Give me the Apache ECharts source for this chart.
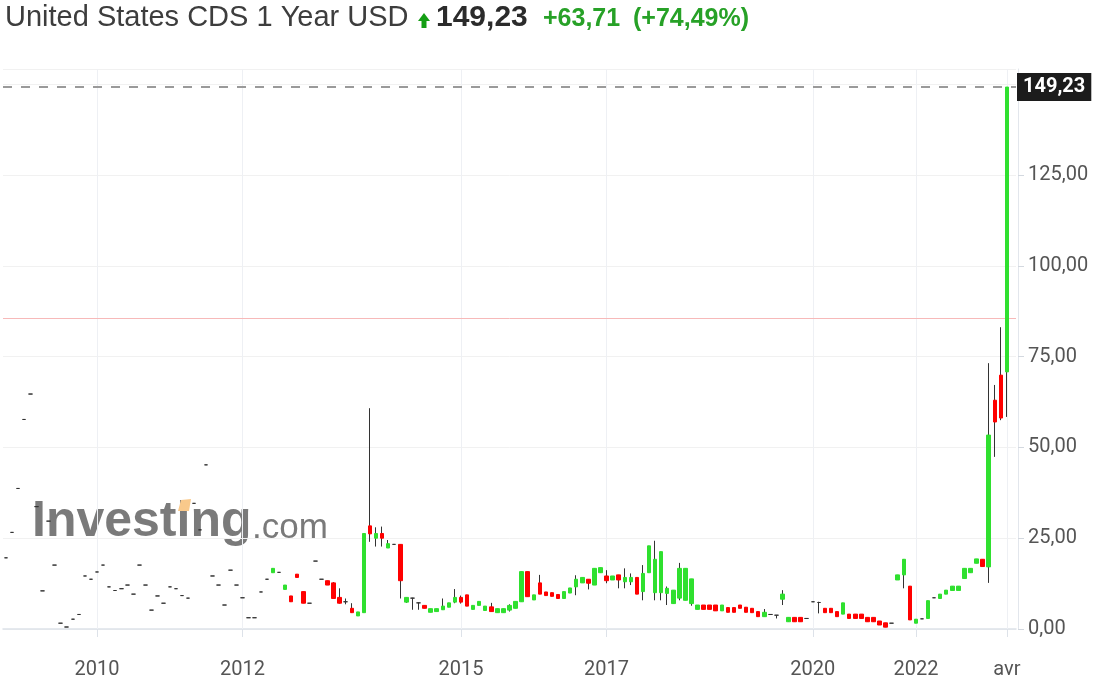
<!DOCTYPE html>
<html>
<head>
<meta charset="utf-8">
<title>United States CDS 1 Year USD</title>
<script src="https://cdn.jsdelivr.net/npm/echarts@6/dist/echarts.min.js"></script>
<style>
    html, body { margin: 0; padding: 0; background: #fff; }
    #chart { width: 1100px; height: 689px; }
</style>
</head>
<body>
<div id="chart"></div>
<script>
// 月度K线的分类（2019-2021年部分月份缺失）
var months = [
    '2008-10', '2008-11', '2008-12',
    '2009-01', '2009-02', '2009-03', '2009-04', '2009-05', '2009-06', '2009-07', '2009-08', '2009-09', '2009-10', '2009-11', '2009-12',
    '2010-01', '2010-02', '2010-03', '2010-04', '2010-05', '2010-06', '2010-07', '2010-08', '2010-09', '2010-10', '2010-11', '2010-12',
    '2011-01', '2011-02', '2011-03', '2011-04', '2011-05', '2011-06', '2011-07', '2011-08', '2011-09', '2011-10', '2011-11', '2011-12',
    '2012-01', '2012-02', '2012-03', '2012-04', '2012-05', '2012-06', '2012-07', '2012-08', '2012-09', '2012-10', '2012-11', '2012-12',
    '2013-01', '2013-02', '2013-03', '2013-04', '2013-05', '2013-06', '2013-07', '2013-08', '2013-09', '2013-10', '2013-11', '2013-12',
    '2014-01', '2014-02', '2014-03', '2014-04', '2014-05', '2014-06', '2014-07', '2014-08', '2014-09', '2014-10', '2014-11', '2014-12',
    '2015-01', '2015-02', '2015-03', '2015-04', '2015-05', '2015-06', '2015-07', '2015-08', '2015-09', '2015-10', '2015-11', '2015-12',
    '2016-01', '2016-02', '2016-03', '2016-04', '2016-05', '2016-06', '2016-07', '2016-08', '2016-09', '2016-10', '2016-11', '2016-12',
    '2017-01', '2017-02', '2017-03', '2017-04', '2017-05', '2017-06', '2017-07', '2017-08', '2017-09', '2017-10', '2017-11', '2017-12',
    '2018-01', '2018-02', '2018-03', '2018-04', '2018-05', '2018-06', '2018-07', '2018-08', '2018-09', '2018-10', '2018-11', '2018-12',
    '2019-01', '2019-02', '2019-03', '2019-04', '2019-05', '2019-06', '2019-09', '2019-10', '2019-11', '2019-12',
    '2020-01', '2020-02', '2020-03', '2020-04', '2020-06', '2020-07', '2020-09', '2020-11',
    '2021-01', '2021-03', '2021-05', '2021-06', '2021-07', '2021-08', '2021-09', '2021-10', '2021-12',
    '2022-01', '2022-02', '2022-03', '2022-04', '2022-05', '2022-06', '2022-07', '2022-08', '2022-09', '2022-10', '2022-11', '2022-12',
    '2023-01', '2023-02', '2023-03', '2023-04'
];

// x轴显示的刻度
var tickMonths = ['2010-01', '2012-01', '2015-01', '2017-01', '2020-01', '2022-01', '2023-04'];
var tickNames = ['2010', '2012', '2015', '2017', '2020', '2022', 'avr'];

// 开盘、收盘、最低、最高
var opens = [
    19.6, 26.6, 38.7, 57.7, 64.7, 33.7, 10.5, 29.7, 17.6, 1.6,
    0.55, 2.7, 4.0, 14.6, 13.7, 15.7, 17.6, 11.6, 10.6, 11.1,
    12.1, 9.6, 17.6, 12.1, 5.2, 9.1, 7.1, 11.6, 11.1, 9.2,
    8.5, 34.6, 27.3, 45.2, 14.6, 12.1, 6.6, 16.2, 12.1, 8.6,
    3.1, 3.1, 10.2, 13.7, 15.5, 15.6, 10.9, 9.1, 15.1, 10.3,
    7.1, 18.7, 13.7, 13.3, 12.7, 8.7, 7.5, 5.7, 3.6, 4.5,
    28.4, 25.0, 26.3, 22.3, 23.3, 23.3, 7.4, 8.5, 7.2, 6.5,
    4.6, 4.8, 5.3, 6.0, 7.4, 8.7, 9.4, 5.4, 6.5, 5.1,
    6.1, 4.5, 4.5, 5.2, 5.7, 7.5, 15.8, 8.0, 12.7, 10.2,
    10.0, 9.5, 8.4, 9.9, 11.6, 12.7, 13.7, 12.1, 15.5, 14.6,
    13.5, 14.9, 13.0, 13.0, 14.2, 10.3, 15.5, 10.0, 10.0, 9.8,
    7.0, 8.5, 7.9, 7.0, 5.4, 6.6, 6.6, 6.6, 5.0, 5.9,
    5.9, 6.6, 6.0, 5.7, 4.8, 3.4, 4.0, 3.8, 8.2, 2.0,
    3.2, 3.2, 2.9, 7.5, 7.3, 5.7, 5.7, 4.8, 4.1, 4.1,
    4.1, 4.1, 3.2, 3.2, 2.2, 1.7, 1.6, 13.5, 14.9, 11.8,
    1.6, 2.8, 2.9, 8.6, 8.4, 9.6, 10.6, 10.6, 13.9, 15.5,
    18.1, 19.2, 17.1, 63.0, 69.9, 70.8
];
var closes = [
    19.6, 26.6, 38.7, 57.7, 64.7, 33.7, 10.5, 29.7, 17.6, 1.6,
    0.55, 2.7, 4.0, 14.6, 13.7, 15.7, 17.6, 11.6, 10.6, 11.1,
    12.1, 9.6, 17.6, 12.1, 5.2, 9.1, 7.1, 11.6, 11.1, 9.2,
    8.5, 34.6, 27.3, 45.2, 14.6, 12.1, 6.6, 16.2, 12.1, 8.6,
    3.1, 3.1, 10.2, 13.7, 16.7, 15.6, 12.1, 7.5, 14.2, 7.1,
    7.1, 18.7, 13.7, 12.1, 8.4, 7.1, 7.5, 4.5, 4.7, 26.3,
    26.2, 26.3, 25.0, 23.5, 23.3, 13.3, 8.7, 8.5, 7.2, 5.7,
    5.6, 5.6, 6.3, 7.2, 8.7, 7.4, 6.3, 6.5, 7.6, 6.3,
    4.8, 5.6, 5.6, 6.5, 7.6, 15.8, 8.9, 9.4, 9.6, 9.2,
    9.0, 8.4, 10.3, 11.3, 13.7, 14.2, 12.6, 16.7, 16.9, 13.3,
    14.6, 13.5, 14.2, 14.2, 9.6, 15.3, 22.9, 19.2, 21.3, 11.2,
    10.7, 16.7, 16.7, 13.8, 6.6, 5.4, 5.4, 5.0, 6.6, 4.6,
    4.6, 5.7, 4.6, 4.5, 3.4, 4.6, 4.0, 3.8, 9.6, 3.2,
    2.0, 2.0, 2.9, 7.5, 7.3, 4.5, 4.5, 3.4, 7.2, 2.9,
    2.9, 2.9, 2.0, 2.0, 1.1, 0.5, 1.6, 14.9, 19.2, 2.5,
    2.7, 2.8, 7.8, 8.6, 9.6, 10.7, 11.8, 11.8, 16.7, 16.7,
    19.3, 17.2, 53.4, 57.0, 58.1, 149.23
];
var lows = [
    19.6, 26.6, 38.7, 57.7, 64.7, 33.7, 10.5, 29.7, 17.6, 1.6,
    0.55, 2.7, 4.0, 14.6, 13.7, 15.7, 17.6, 11.6, 10.6, 11.1,
    12.1, 9.6, 17.6, 12.1, 5.2, 9.1, 7.1, 11.6, 11.1, 9.2,
    8.5, 34.6, 27.3, 45.2, 14.6, 12.1, 6.6, 16.2, 12.1, 8.6,
    3.1, 3.1, 10.2, 13.7, 15.5, 15.6, 10.9, 7.5, 14.2, 7.1,
    7.1, 18.7, 13.7, 12.1, 8.4, 7.0, 6.8, 4.4, 3.6, 4.5,
    24.0, 22.7, 22.7, 22.3, 23.3, 8.4, 7.2, 5.3, 5.3, 5.7,
    4.6, 4.8, 5.3, 6.0, 7.1, 7.0, 6.3, 5.4, 6.5, 5.1,
    4.8, 4.5, 4.5, 4.8, 5.7, 7.5, 8.9, 8.0, 9.6, 9.2,
    9.0, 8.4, 8.4, 9.9, 9.3, 12.7, 10.9, 12.1, 15.5, 12.6,
    13.5, 11.2, 11.2, 12.1, 9.6, 7.9, 15.5, 7.9, 7.9, 6.6,
    7.0, 7.9, 7.9, 6.4, 5.4, 5.4, 5.4, 5.0, 5.0, 4.6,
    4.6, 5.7, 4.6, 4.5, 3.4, 3.4, 4.0, 2.9, 6.6, 2.0,
    2.0, 2.0, 2.9, 7.5, 4.3, 4.5, 4.5, 3.4, 4.1, 2.9,
    2.9, 2.9, 2.0, 2.0, 1.1, 0.5, 1.6, 13.5, 11.2, 2.5,
    1.6, 2.8, 2.9, 8.6, 8.4, 9.6, 10.6, 10.6, 13.9, 15.5,
    18.1, 17.2, 12.7, 47.4, 57.5, 58.4
];
var highs = [
    19.6, 26.6, 38.7, 57.7, 64.7, 33.7, 10.5, 29.7, 17.6, 1.6,
    0.55, 2.7, 4.0, 14.6, 13.7, 15.7, 17.6, 11.6, 10.6, 11.1,
    12.1, 9.6, 17.6, 12.1, 5.2, 9.1, 7.1, 11.6, 11.1, 9.2,
    8.5, 34.6, 27.3, 45.2, 14.6, 12.1, 6.6, 16.2, 12.1, 8.6,
    3.1, 3.1, 10.2, 13.7, 16.7, 15.6, 12.1, 9.1, 15.1, 10.3,
    7.1, 18.7, 13.7, 13.3, 12.9, 11.2, 8.4, 7.1, 4.7, 26.3,
    60.8, 28.0, 28.2, 24.5, 23.3, 23.3, 8.7, 8.6, 7.3, 6.5,
    5.6, 5.6, 8.4, 7.2, 11.0, 9.2, 9.4, 6.5, 7.6, 6.3,
    7.2, 5.6, 5.6, 6.8, 7.6, 15.8, 15.8, 9.4, 14.9, 10.2,
    10.0, 9.5, 10.3, 11.3, 14.8, 14.2, 13.7, 16.7, 16.9, 16.2,
    14.6, 14.9, 16.7, 15.3, 14.2, 17.6, 22.9, 24.3, 21.3, 11.7,
    10.7, 18.2, 16.7, 13.8, 6.6, 6.6, 6.6, 6.6, 6.6, 5.9,
    5.9, 6.6, 6.0, 5.7, 4.8, 5.5, 4.0, 3.8, 10.7, 3.2,
    3.2, 3.2, 2.9, 7.5, 7.5, 5.7, 5.7, 4.8, 7.2, 4.1,
    4.1, 4.1, 3.2, 3.2, 2.2, 1.7, 1.6, 14.9, 19.2, 11.8,
    2.7, 2.8, 7.8, 8.6, 9.6, 10.7, 11.8, 11.8, 16.7, 16.7,
    19.3, 19.2, 73.2, 67.2, 83.1, 149.23
];

var lastPrice = 149.23;   // 最新价
var prevClose = 85.52;    // 上一收盘（粉色线）
var change = 63.71;
var changePct = 74.49;

var UP = '#2fe02f';
var DOWN = '#ff0000';
var WICK = '#333333';

// 数字转成逗号小数
function fmt(v) {
    return v.toFixed(2).replace('.', ',');
}

function isTick(index, value) {
    return tickMonths.indexOf(value) >= 0;
}

var wickData = [];
var bodyData = [];
for (var i = 0; i < months.length; i++) {
    wickData.push([opens[i], closes[i], lows[i], highs[i]]);
    bodyData.push([opens[i], closes[i], Math.min(opens[i], closes[i]), Math.max(opens[i], closes[i])]);
}

// 竖向网格线画在刻度月份的中心
var markData = [];
for (var j = 0; j < tickMonths.length; j++) {
    markData.push({xAxis: tickMonths[j], lineStyle: {color: '#eef0f4', width: 1, type: 'solid'}});
}
markData.push({yAxis: prevClose, lineStyle: {color: '#f7b9b9', width: 1, type: 'solid'}});
markData.push({
    yAxis: lastPrice,
    lineStyle: {color: '#9a9a9a', width: 2, type: [9, 9]},
    label: {
        show: true,
        position: 'end',
        distance: 1,
        formatter: fmt(lastPrice),
        color: '#ffffff',
        backgroundColor: '#1c1c1c',
        fontFamily: 'Roboto',
        fontWeight: 'bold',
        fontSize: 20,
        padding: [4, 6, 4, 6]
    }
});

var chart = echarts.init(document.getElementById('chart'));

var option = {
    animation: false,
    backgroundColor: '#ffffff',
    grid: {left: 3, right: 84, top: 69, bottom: 60},
    xAxis: {
        type: 'category',
        data: months,
        max: months.length,
        boundaryGap: true,
        offset: 16,
        axisLine: {lineStyle: {color: '#dde2e9', width: 1.5}},
        axisTick: {show: true, alignWithLabel: true, interval: isTick, length: 8, lineStyle: {color: '#dde2e9'}},
        axisLabel: {
            interval: isTick,
            formatter: function (val) {
                return tickNames[tickMonths.indexOf(val)];
            },
            color: '#555555',
            fontFamily: 'Roboto',
            fontSize: 20,
            margin: 15
        },
        splitLine: {show: false}
    },
    yAxis: {
        type: 'value',
        position: 'right',
        min: 0,
        max: 154.2,
        interval: 25,
        offset: 2,
        axisLine: {show: true, lineStyle: {color: '#e2e6ec'}},
        axisTick: {show: true, length: 6, lineStyle: {color: '#d3d8df'}},
        axisLabel: {
            color: '#555555',
            fontFamily: 'Roboto',
            fontSize: 20,
            margin: 10,
            showMaxLabel: false,
            formatter: fmt
        },
        splitLine: {lineStyle: {color: '#f1f1f1'}}
    },
    series: [
        {
            name: 'wick',
            type: 'candlestick',
            data: wickData,
            barWidth: 1,
            z: 2,
            silent: true,
            itemStyle: {
                color: WICK, color0: WICK,
                borderColor: WICK, borderColor0: WICK, borderColorDoji: WICK,
                borderWidth: 1
            },
            markLine: {
                silent: true,
                z: 1,
                symbol: ['none', 'none'],
                label: {show: false},
                data: markData
            }
        },
        {
            name: 'body',
            type: 'candlestick',
            data: bodyData,
            barWidth: 4,
            z: 3,
            silent: true,
            itemStyle: {
                color: UP, color0: DOWN,
                borderColor: UP, borderColor0: DOWN, borderColorDoji: WICK,
                borderWidth: 1
            }
        }
    ],
    graphic: [
        // 水印
        {type: 'text', z: 0, style: {x: 32, y: 522, text: 'Investing', font: 'bold 50px "Liberation Sans"', fill: '#7a7a7a', verticalAlign: 'middle'}},
        {type: 'text', z: 0, style: {x: 252, y: 528, text: '.com', font: '35px "Liberation Sans"', fill: '#7a7a7a', verticalAlign: 'middle'}},
        {type: 'polygon', z: 0, shape: {points: [[178, 511], [181, 500], [191, 499], [189, 511]]}, style: {fill: '#f9c98b'}},
        // 标题
        {type: 'text', style: {x: 5, y: 18, text: 'United States CDS 1 Year USD', font: '29px "Liberation Sans"', fill: '#3d3d3d', verticalAlign: 'middle'}},
        {type: 'polygon', shape: {points: [[418, 21], [424, 13], [430, 21], [426.5, 21], [426.5, 28], [421.5, 28], [421.5, 21]]}, style: {fill: '#149e14'}},
        {type: 'text', style: {x: 436, y: 17.5, text: fmt(lastPrice), font: 'bold 30px "Liberation Sans"', fill: '#2b2b2b', verticalAlign: 'middle'}},
        {type: 'text', style: {x: 543, y: 19, text: '+' + fmt(change), font: 'bold 25px "Liberation Sans"', fill: '#27a127', verticalAlign: 'middle'}},
        {type: 'text', style: {x: 633, y: 19, text: '(+' + fmt(changePct) + '%)', font: 'bold 25px "Liberation Sans"', fill: '#27a127', verticalAlign: 'middle'}}
    ]
};

chart.setOption(option);
</script>
</body>
</html>
